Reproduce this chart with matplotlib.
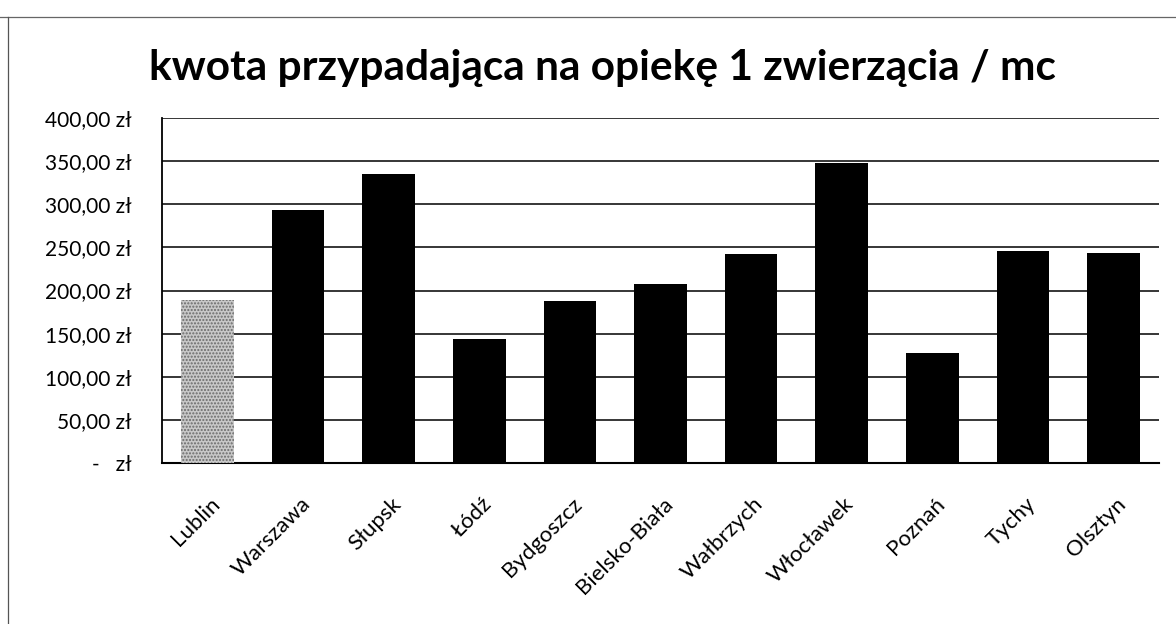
import numpy as np
import matplotlib
matplotlib.use('Agg')
import matplotlib.pyplot as plt
from matplotlib.lines import Line2D
from matplotlib.transforms import ScaledTranslation

plt.rcParams['font.family'] = ['Lato', 'DejaVu Sans']

# dane
miasta = ['Lublin', 'Warszawa', 'Słupsk', 'Łódź', 'Bydgoszcz', 'Bielsko-Biała',
          'Wałbrzych', 'Włocławek', 'Poznań', 'Tychy', 'Olsztyn']
kwoty = [189, 293, 335, 144, 188, 207, 242, 348, 128, 246, 243]
y_ticks = [0, 50, 100, 150, 200, 250, 300, 350, 400]
tytul = 'kwota przypadająca na opiekę 1 zwierzącia / mc'


def fmt_zl(v):
    if v == 0:
        return '-   zł'
    return f'{v:,.2f}'.replace(',', ' ').replace('.', ',') + ' zł'


W, H = 1176, 624
fig = plt.figure(figsize=(W / 100, H / 100), dpi=100)
ax = fig.add_axes([162 / W, 1 - 463 / H, (1159 - 162) / W, (463 - 118) / H])

x = np.arange(len(miasta))
kolory = ['#c8c8c8'] + ['black'] * (len(miasta) - 1)
bars = ax.bar(x, kwoty, width=0.58, color=kolory, zorder=3)
# Lublin - szary, kropkowany
bars[0].set_hatch('.....')
bars[0].set_edgecolor('#6a6a6a')
bars[0].set_linewidth(0)

ax.set_xlim(-0.5, len(miasta) - 0.5)
ax.set_ylim(0, 400)
ax.set_yticks(y_ticks)
ax.set_yticklabels([fmt_zl(v) for v in y_ticks], fontsize=15)
ax.yaxis.grid(True, color='black', linewidth=1.1, zorder=0)
ax.tick_params(axis='y', length=0, pad=22)
ax.tick_params(axis='x', length=0, pad=10)
for s in ['top', 'right']:
    ax.spines[s].set_visible(False)
ax.spines['left'].set_linewidth(1.3)
ax.spines['bottom'].set_linewidth(1.5)

ax.set_xticks(x)
ax.set_xticklabels(miasta, rotation=45, ha='right', rotation_mode='anchor',
                   fontsize=16)
przesun = ScaledTranslation(0.02, -0.17, fig.dpi_scale_trans)
for lab in ax.get_xticklabels():
    lab.set_transform(lab.get_transform() + przesun)

fig.text(602 / W, 1 - 68 / H, tytul, ha='center', va='center',
         fontsize=30.5, fontweight='bold')

# ramka wykresu
fig.add_artist(Line2D([0, 1], [1 - 17 / H, 1 - 17 / H], color='#666666', lw=0.9))
fig.add_artist(Line2D([8 / W, 8 / W], [0, 1 - 17 / H], color='#555555', lw=0.9))

fig.savefig('out.png', dpi=100)
